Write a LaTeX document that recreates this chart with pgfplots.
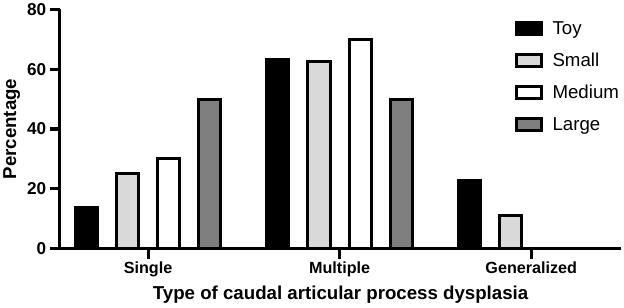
\documentclass[border=0pt]{standalone}
\usepackage{fontspec}
\setmainfont{Liberation Sans}
\usepackage{pgfplots}
\pgfplotsset{compat=1.18}
\definecolor{smallc}{HTML}{D9D9D9}
\definecolor{largec}{HTML}{7F7F7F}
\pgfplotsset{
  mybar/.style={ybar, bar width=0.116, draw=black, line width=3bp,
    legend image code/.code={\draw[##1, line width=3bp] (0bp,-6bp) rectangle (25bp,6bp);}},
}
\begin{document}
\begin{tikzpicture}
\begin{axis}[
  scale only axis, width=554bp, height=236bp,
  xmin=-0.46, xmax=2.47, ymin=0, ymax=80,
  axis x line*=bottom, axis y line*=left,
  axis line style={line width=3bp, -},
  ytick={0,20,40,60,80},
  xtick={0,1,2}, xticklabels={Single,Multiple,Generalized},
  tick align=outside, major tick length=10bp,
  tick style={line width=3bp, black},
  /pgf/number format/assume math mode=true,
  yticklabel style={font=\fontsize{17}{17}\selectfont\bfseries},
  xticklabel style={font=\fontsize{16}{16}\selectfont\bfseries},
  ylabel={Percentage},
  xlabel={Type of caudal articular process dysplasia},
  ylabel style={font=\fontsize{18.5}{18.5}\selectfont\bfseries},
  xlabel style={font=\fontsize{18.5}{18.5}\selectfont\bfseries, yshift=-2bp},
  legend style={at={(0.805,0.968)}, anchor=north west, draw=none, fill=none,
    font=\fontsize{18.5}{18.5}\selectfont, row sep=13bp,
    /tikz/every odd column/.append style={column sep=7bp}},
  legend cell align=left,
  clip=false,
]
\addplot[mybar, fill=black, bar shift=-0.3225] coordinates {(0,13.6) (1,63.2) (2,22.7)};
\addlegendentry{Toy}
\addplot[mybar, fill=smallc, bar shift=-0.1075] coordinates {(0,25) (1,62.5) (2,11)};
\addlegendentry{Small}
\addplot[mybar, fill=white, bar shift=0.1075] coordinates {(0,30) (1,70)};
\addlegendentry{Medium}
\addplot[mybar, fill=largec, bar shift=0.3225] coordinates {(0,50) (1,50)};
\addlegendentry{Large}
\end{axis}
\end{tikzpicture}
\end{document}
